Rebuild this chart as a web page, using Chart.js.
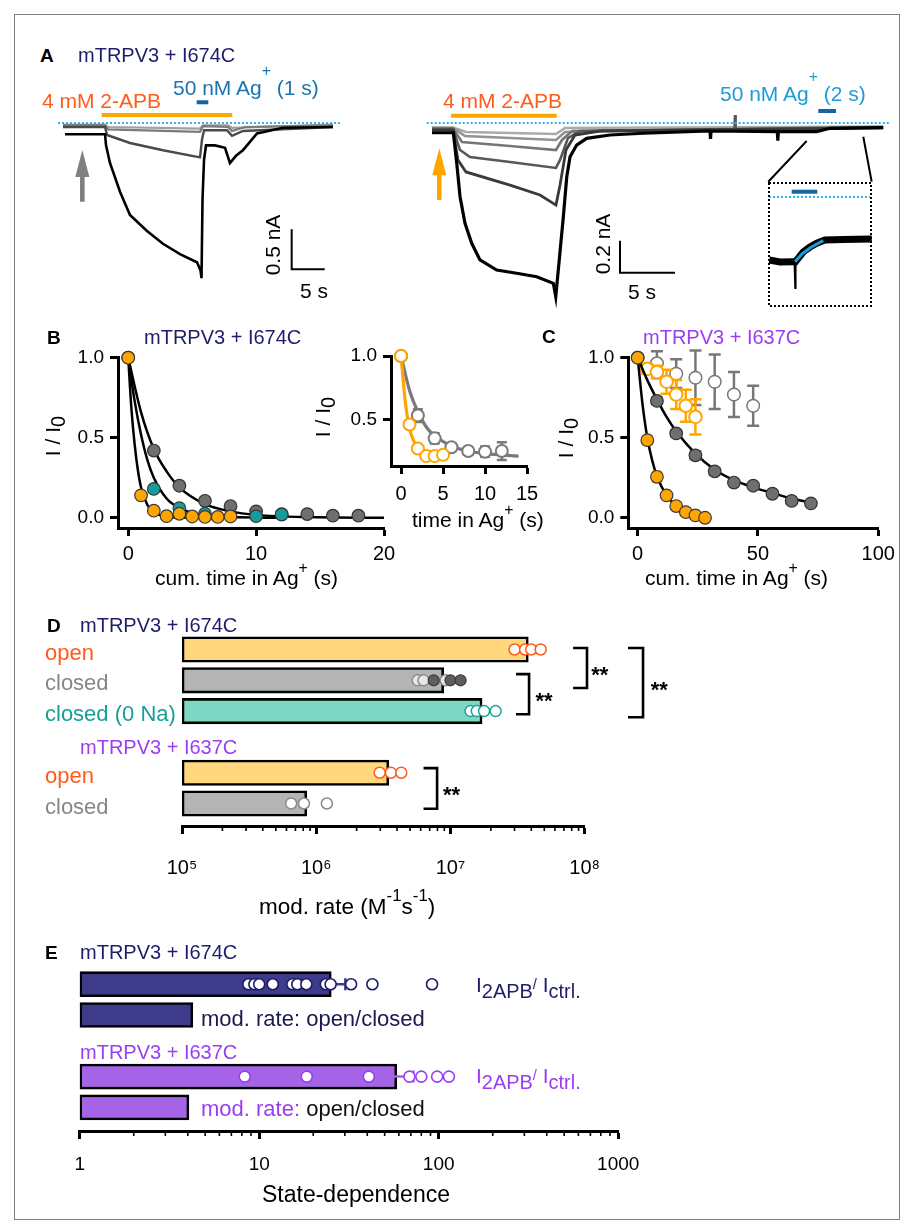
<!DOCTYPE html>
<html>
<head>
<meta charset="utf-8">
<title>mTRPV3 state-dependent modification</title>
<script src="https://cdn.jsdelivr.net/npm/chart.js@4.4.1/dist/chart.umd.min.js"></script>
<style>
  html, body { margin: 0; background: #fff; }
  #page { position: relative; width: 913px; height: 1232px; overflow: hidden; font-family: "Liberation Sans", Arial, sans-serif; }
  #page canvas { position: absolute; }
  .frame { position: absolute; left: 14px; top: 14px; width: 884px; height: 1204px; border: 1px solid #808080; }
  .t { position: absolute; white-space: nowrap; line-height: 1; }
  .sp { position: relative; top: -0.75em; font-size: 0.75em; }
  .sp2 { position: relative; top: -1.2em; font-size: 0.75em; }
  .sb { position: relative; top: 0.27em; font-size: 0.95em; }
  .sl { position: relative; top: -0.2em; font-size: 0.7em; }
</style>
</head>
<body>
<div id="page"><div class="frame"></div></div>
<script>
// ---------- A: whole-cell traces (time in s, current in nA) ----------
const aL_blackT = [0.45, 6.52, 6.67, 7.27, 8.79, 10.3, 12.88, 15.3, 17.88, 20.45, 20.98, 21.14, 21.29, 21.52, 21.82, 23.18, 24.7, 25.45, 26.36, 27.42, 29.55, 33.48, 41.06];
const aL_blackI = [-0.14, -0.14, -0.28, -0.5, -0.86, -1.15, -1.35, -1.51, -1.64, -1.74, -1.84, -1.94, -0.96, -0.46, -0.28, -0.28, -0.31, -0.5, -0.41, -0.34, -0.13, -0.06, -0.05];
const aL_grayT = [0.15, 6.52, 6.82, 10.3, 15.3, 20.91, 21.21, 21.52, 25.0, 25.76, 27.42, 41.06];
const aL_grayI = [-0.05, -0.05, -0.15, -0.25, -0.34, -0.43, -0.21, -0.09, -0.09, -0.16, -0.1, -0.05];
const aL_lightT = [0.15, 6.52, 6.97, 20.91, 21.36, 25.15, 25.76, 27.73, 41.06];
const aL_lightI = [-0.03, -0.03, -0.08, -0.11, -0.04, -0.05, -0.1, -0.05, -0.03];
const aL_faintT = [0.15, 6.52, 6.97, 20.91, 21.36, 25.15, 25.76, 41.06];
const aL_faintI = [-0.02, -0.02, -0.05, -0.07, -0.03, -0.03, -0.06, -0.02];
const aL_apbT = [6.02, 25.8];
const aL_agT = [20.4, 22.17];
const aL_zeroT = [-0.6, 42.1];

const aR_blackT = [0, 1.94, 2.25, 2.55, 3.0, 3.61, 4.36, 5.88, 7.7, 9.52, 11.03, 11.25, 11.48, 11.94, 12.25, 12.55, 13.15, 14.06, 16.18, 19.21, 25.27, 25.32, 25.37, 31.39, 31.44, 31.49, 34.97, 36.18, 41.03];
const aR_blackI = [-0.061, -0.061, -0.252, -0.461, -0.627, -0.752, -0.856, -0.919, -0.939, -0.961, -1.002, -1.086, -0.919, -0.586, -0.336, -0.211, -0.138, -0.096, -0.075, -0.064, -0.05, -0.1, -0.05, -0.054, -0.11, -0.054, -0.054, -0.033, -0.029];
const aR_g1T = [0, 1.91, 2.36, 3.09, 7.09, 9.82, 11.27, 11.64, 12.18, 13.0, 15.27, 41.0];
const aR_g1I = [-0.044, -0.044, -0.231, -0.306, -0.388, -0.45, -0.513, -0.388, -0.169, -0.075, -0.05, -0.031];
const aR_g2T = [0, 1.91, 2.55, 3.45, 7.09, 11.27, 11.64, 12.36, 13.45, 27.5, 27.55, 27.6, 41.0];
const aR_g2I = [-0.038, -0.038, -0.169, -0.213, -0.244, -0.281, -0.231, -0.094, -0.05, -0.04, 0.05, -0.04, -0.028];
const aR_g3T = [0, 1.91, 2.73, 7.09, 11.27, 11.82, 12.73, 41.0];
const aR_g3I = [-0.034, -0.034, -0.119, -0.144, -0.169, -0.106, -0.05, -0.025];
const aR_g4T = [0, 1.91, 3.0, 11.27, 12.09, 41.0];
const aR_g4I = [-0.031, -0.031, -0.081, -0.106, -0.056, -0.025];
const aR_g5T = [0, 1.91, 3.09, 11.27, 12.09, 41.0];
const aR_g5I = [-0.028, -0.028, -0.056, -0.069, -0.031, -0.022];
const aR_apbT = [1.73, 11.34];
const aR_agT = [35.12, 36.73];
const aR_zeroT = [-0.48, 41.6];

// zoomed inset of the 2 s Ag+ pulse (time in s, current in pA)
const aI_traceT = [0.1, 0.92, 1.95, 2.1, 2.72, 3.23, 3.75, 4.38, 5.77, 7.98];
const aI_traceI = [-39.4, -40.6, -40.4, -40.6, -34.2, -31.3, -28.9, -26.9, -26.6, -26.3];
const aI_spikeT = [2.02, 2.08, 2.14];
const aI_spikeI = [-40.5, -57, -40.5];
const aI_fitT = [2.08, 2.62, 3.23, 3.77, 4.25];
const aI_fitI = [-40.4, -35.6, -31.9, -29.4, -27.3];
const aI_agT = [1.82, 3.79];
const aI_zeroT = [0.08, 7.85];

// ---------- B: mTRPV3 + I674C, I/I0 vs cumulative time in Ag+ ----------
const bOpenT = [0, 1, 2, 3, 4, 5, 6, 7, 8];
const bOpenY = [1.0, 0.14, 0.044, 0.01, 0.025, 0.008, 0.005, 0.005, 0.008];
const b0NaT = [2, 4, 6, 10, 12];
const b0NaY = [0.18, 0.06, 0.025, 0.01, 0.02];
const bClosedT = [0, 2, 4, 6, 8, 10, 12, 14, 16, 18];
const bClosedY = [1.0, 0.42, 0.2, 0.106, 0.073, 0.04, 0.023, 0.023, 0.013, 0.013];
const bFitOpenT = [0, 0.25, 0.5, 0.75, 1, 1.5, 2, 3, 4, 8];
const bFitOpenY = [1, 0.68, 0.46, 0.3, 0.19, 0.08, 0.035, 0.008, 0.002, 0];
const bFit0NaT = [0, 0.5, 1, 1.5, 2, 3, 4, 5, 6, 8, 12];
const bFit0NaY = [1, 0.73, 0.52, 0.36, 0.25, 0.12, 0.06, 0.03, 0.015, 0.004, 0];
const bFitClosedT = [0, 1, 2, 3, 4, 6, 8, 10, 14, 20];
const bFitClosedY = [1, 0.66, 0.43, 0.29, 0.19, 0.085, 0.04, 0.018, 0.004, 0];
const bXTicks = [0, 10, 20];
const bYTicks = [0, 0.5, 1];

// inset: control recordings
const bInOpenT = [0, 1, 2, 3, 4, 5];
const bInOpenY = [1.0, 0.46, 0.27, 0.21, 0.21, 0.22];
const bInOpenErr = [0, 0.03, 0.02, 0.02, 0.02, 0.02];
const bInClosedT = [0, 2, 4, 6, 8, 10, 12];
const bInClosedY = [1.0, 0.53, 0.35, 0.28, 0.25, 0.245, 0.25];
const bInClosedErr = [0, 0.05, 0.04, 0.03, 0.03, 0.04, 0.07];
const bInFitOpenT = [0, 0.5, 1, 1.5, 2, 3, 4, 5.5];
const bInFitOpenY = [1, 0.64, 0.43, 0.33, 0.28, 0.25, 0.245, 0.245];
const bInFitClosedT = [0, 1, 2, 3, 4, 6, 8, 10, 14];
const bInFitClosedY = [1, 0.73, 0.56, 0.44, 0.37, 0.29, 0.25, 0.23, 0.21];
const bInXTicks = [0, 5, 10, 15];
const bInYTicks = [0.5, 1];

// ---------- C: mTRPV3 + I637C ----------
const cOpenT = [0, 4, 8, 12, 16, 20, 24, 28];
const cOpenY = [1.0, 0.485, 0.256, 0.14, 0.073, 0.035, 0.015, 0.0];
const cOpenErr = [0, 0.025, 0.03, 0.015, 0.012, 0.01, 0.01, 0.008];
const cClosedT = [0, 8, 16, 24, 32, 40, 48, 56, 64, 72];
const cClosedY = [1.0, 0.73, 0.527, 0.39, 0.29, 0.22, 0.2, 0.15, 0.105, 0.09];
const cClosedErr = [0, 0.02, 0.02, 0.025, 0.02, 0.015, 0.015, 0.01, 0.01, 0.01];
const cOpenCtrlT = [4, 8, 12, 16, 20, 24];
const cOpenCtrlY = [0.93, 0.91, 0.85, 0.77, 0.7, 0.63];
const cOpenCtrlErr = [0.03, 0.04, 0.075, 0.09, 0.1, 0.11];
const cClosedCtrlT = [8, 16, 24, 32, 40, 48];
const cClosedCtrlY = [0.965, 0.9, 0.875, 0.85, 0.77, 0.7];
const cClosedCtrlErr = [0.075, 0.09, 0.17, 0.17, 0.14, 0.125];
const cFitClosedT = [0, 4, 8, 12, 16, 24, 32, 40, 48, 56, 64, 72];
const cFitClosedY = [1, 0.86, 0.74, 0.63, 0.54, 0.4, 0.3, 0.235, 0.19, 0.155, 0.12, 0.095];
const cFitOpenT = [0, 2, 4, 6, 8, 12, 16, 20, 24, 28];
const cFitOpenY = [1, 0.71, 0.5, 0.36, 0.26, 0.14, 0.075, 0.04, 0.018, 0.005];
const cXTicks = [0, 50, 100];
const cYTicks = [0, 0.5, 1];

// ---------- D: modification rates (M-1 s-1) ----------
const dRows = [0, 1, 2, 4, 5];
const dLabels = ['open', 'closed', 'closed (0 Na)', 'open', 'closed'];
const dMeans = [3.8e7, 8.9e6, 1.72e7, 3.47e6, 8.5e5];
const dOpen674 = [3.0e7, 3.6e7, 4.0e7, 4.7e7];
const dClosed674 = [5.7e6, 6.3e6, 9.2e6];
const dClosed674b = [7.5e6, 1.0e7, 1.19e7];
const d0Na674 = [1.41e7, 1.57e7, 1.78e7, 2.17e7];
const dOpen637 = [2.97e6, 3.6e6, 4.3e6];
const dClosed637 = [6.5e5, 8.1e5, 1.2e6];
const dDecades = [1e5, 1e6, 1e7, 1e8];
const dTickLabels = ['10\u2075', '10\u2076', '10\u2077', '10\u2078'];

// ---------- E: state-dependence ----------
const eRows = [0, 1, 3, 4];
const eMeans = [25.2, 4.27, 58.4, 4.06];
const eRatio674 = [8.7, 9.4, 10, 11.9, 15.3, 16.3, 18.3, 23.5, 25, 32.5, 42.7, 91.8];
const eRatio637 = [8.3, 18.4, 40.8, 68.7, 80, 98, 114];
const eErr674 = 5;
const eErr637 = 14;
const eTicks = [1, 10, 100, 1000];

// ---------- helpers ----------
Chart.defaults.font.family = '"Liberation Sans", Arial, sans-serif';
Chart.defaults.color = '#000';
const NAVY = '#1d1d6b', ORANGE = '#ff5b1a', PURPLE = '#9b3df2', TEAL = '#17a097', GREY = '#878787';
const page = document.getElementById('page');

function cv(left, top, w, h) {
  const c = document.createElement('canvas');
  c.width = w; c.height = h;
  c.style.left = left + 'px'; c.style.top = top + 'px';
  c.style.width = w + 'px'; c.style.height = h + 'px';
  page.appendChild(c);
  return c;
}
function txt(html, x, base, size, color, extra) {
  const d = document.createElement('div');
  d.className = 't';
  d.innerHTML = html;
  d.style.cssText = `left:${x}px;top:${base - 0.8465 * size}px;font-size:${size}px;color:${color};` + (extra || '');
  page.appendChild(d);
}
function vtxt(html, cx, cy, size, color) {
  const d = document.createElement('div');
  d.className = 't';
  d.innerHTML = html;
  d.style.cssText = `left:${cx}px;top:${cy}px;font-size:${size}px;color:${color};transform:translate(-50%,-50%) rotate(-90deg);`;
  page.appendChild(d);
}
const pts = (xs, ys) => xs.map((x, i) => ({x, y: ys[i]}));
const rowPts = (vals, row) => vals.map(v => ({x: v, y: row}));
const flat = (ts, level) => ts.map(t => ({x: t, y: level}));

const common = {responsive: false, animation: false, events: []};
const quiet = {legend: {display: false}, tooltip: {enabled: false}};

// error bars drawn just before the dataset that owns them
Chart.register({
  id: 'errorBars',
  beforeDatasetDraw(chart, args) {
    const ds = chart.data.datasets[args.index];
    if (!ds.err) return;
    const horiz = ds.errAxis === 'x';
    const sc = horiz ? chart.scales.x : chart.scales.y;
    const ctx = chart.ctx, cap = ds.errCap || 5;
    ctx.save();
    ctx.strokeStyle = ds.errColor; ctx.lineWidth = 2.5;
    args.meta.data.forEach((el, i) => {
      const e = ds.err[i];
      if (!e) return;
      const v = horiz ? ds.data[i].x : ds.data[i].y;
      const a = sc.getPixelForValue(v - e), b = sc.getPixelForValue(v + e);
      ctx.beginPath();
      if (horiz) {
        ctx.moveTo(a, el.y); ctx.lineTo(b, el.y);
        ctx.moveTo(a, el.y - cap); ctx.lineTo(a, el.y + cap);
        ctx.moveTo(b, el.y - cap); ctx.lineTo(b, el.y + cap);
      } else {
        ctx.moveTo(el.x, a); ctx.lineTo(el.x, b);
        ctx.moveTo(el.x - cap, a); ctx.lineTo(el.x + cap, a);
        ctx.moveTo(el.x - cap, b); ctx.lineTo(el.x + cap, b);
      }
      ctx.stroke();
    });
    ctx.restore();
  }
});

function deco(draw) {
  return {id: 'deco', afterDatasetsDraw(chart) {
    const ctx = chart.ctx;
    ctx.save(); draw(ctx, chart.scales.x, chart.scales.y, chart); ctx.restore();
  }};
}
function arrow(ctx, px, tip, base, color) {
  ctx.fillStyle = color;
  ctx.fillRect(px - 2.3, tip + 24, 4.6, base - tip - 24);
  ctx.beginPath();
  ctx.moveTo(px, tip); ctx.lineTo(px + 7, tip + 27); ctx.lineTo(px - 7, tip + 27);
  ctx.closePath(); ctx.fill();
}
function scaleBar(ctx, x, y, s) {
  ctx.strokeStyle = '#000'; ctx.lineWidth = 2;
  const px = x.getPixelForValue(s.t), py0 = y.getPixelForValue(s.i), py1 = y.getPixelForValue(s.i - s.di);
  ctx.beginPath();
  ctx.moveTo(px, py0); ctx.lineTo(px, py1); ctx.lineTo(x.getPixelForValue(s.t + s.dt), py1);
  ctx.stroke();
}
// short minor ticks of a log axis (decade ticks come from the axis itself)
function minorTicks(ctx, x, decades) {
  ctx.strokeStyle = '#000'; ctx.lineWidth = 1.6;
  const y0 = x.top;
  ctx.beginPath();
  decades.slice(0, -1).forEach(d => {
    for (let m = 2; m <= 9; m++) {
      const px = x.getPixelForValue(d * m);
      ctx.moveTo(px, y0); ctx.lineTo(px, y0 + 5);
    }
  });
  ctx.stroke();
}
function trace(data, color, width, dash) {
  return {data, borderColor: color, borderWidth: width, borderDash: dash || [], pointRadius: 0, fill: false, clip: false, tension: 0};
}
function traceChart(c, xr, yr, datasets, draw) {
  return new Chart(c, {
    type: 'line',
    data: {datasets},
    options: {...common, plugins: quiet, layout: {padding: 0},
      scales: {x: {type: 'linear', display: false, min: xr[0], max: xr[1]},
               y: {type: 'linear', display: false, min: yr[0], max: yr[1]}}},
    plugins: [deco(draw)]
  });
}
function dots(data, fill, stroke, r, bw, extra) {
  return Object.assign({type: 'scatter', data, showLine: false, pointRadius: r, pointBackgroundColor: fill,
    pointBorderColor: stroke, pointBorderWidth: bw, clip: false}, extra || {});
}
function fitLine(data, color, width) {
  return {type: 'scatter', data, showLine: true, pointRadius: 0, borderColor: color, borderWidth: width,
    cubicInterpolationMode: 'monotone', clip: false, fill: false};
}
function axis(o) {
  return {
    type: o.type || 'linear', min: o.min, max: o.max, reverse: !!o.reverse, offset: false,
    afterBuildTicks: s => { s.ticks = o.ticks.map(v => ({value: v})); },
    afterFit: s => { if (o.horizontal) s.height = o.fit; else s.width = o.fit; },
    grid: {display: o.grid !== false, offset: false, drawOnChartArea: false, tickLength: o.tl || 8, tickWidth: o.tw || 3, tickColor: '#000'},
    border: {display: o.border !== false, width: 3, color: '#000'},
    ticks: Object.assign({display: o.labels !== false, font: {size: o.size || 19}, color: '#000', padding: o.pad ?? 6,
      autoSkip: false, maxRotation: 0, callback: o.fmt || (v => String(v))}, o.tickExtra || {})
  };
}
const f1 = v => v.toFixed(1);

// ---------- A ----------
traceChart(cv(40, 80, 305, 220), [-3.333, 42.88], [-2.2125, 0.5375], [
  trace(flat(aL_apbT, 0.1), '#ffa500', 4),
  trace(flat(aL_agT, 0.259), '#1565a0', 4),
  trace(flat(aL_zeroT, 0), '#2cb2ef', 2, [2, 2]),
  trace(pts(aL_blackT, aL_blackI), '#000', 2.6),
  trace(pts(aL_grayT, aL_grayI), '#4a4a4a', 2.4),
  trace(pts(aL_lightT, aL_lightI), '#7a7a7a', 2.2),
  trace(pts(aL_faintT, aL_faintI), '#a0a0a0', 2.2)
], (ctx, x, y) => {
  scaleBar(ctx, x, y, {t: 34.8, i: -1.329, di: 0.5, dt: 5});
  arrow(ctx, x.getPixelForValue(3.08), y.getPixelForValue(-0.3375), y.getPixelForValue(-0.984), '#7f7f7f');
});

traceChart(cv(420, 80, 475, 230), [-1.0909, 42.0909], [-1.16875, 0.26875], [
  trace(flat(aR_apbT, 0.0456), '#ffa500', 4),
  trace(flat(aR_agT, 0.075), '#1565a0', 4),
  trace(flat(aR_zeroT, 0), '#2cb2ef', 2, [2, 2]),
  trace(pts(aR_blackT, aR_blackI), '#000', 3.2),
  trace(pts(aR_g1T, aR_g1I), '#3a3a3a', 2.8),
  trace(pts(aR_g2T, aR_g2I), '#585858', 2.6),
  trace(pts(aR_g3T, aR_g3I), '#767676', 2.6),
  trace(pts(aR_g4T, aR_g4I), '#929292', 2.6),
  trace(pts(aR_g5T, aR_g5I), '#aaaaaa', 2.6)
], (ctx, x, y) => {
  scaleBar(ctx, x, y, {t: 17.09, i: -0.7356, di: 0.2, dt: 5});
  arrow(ctx, x.getPixelForValue(0.66), y.getPixelForValue(-0.158), y.getPixelForValue(-0.481), '#ffa500');
  ctx.strokeStyle = '#000'; ctx.lineWidth = 2;
  ctx.beginPath();
  ctx.moveTo(x.getPixelForValue(34.06), y.getPixelForValue(-0.1125)); ctx.lineTo(x.getPixelForValue(30.57), y.getPixelForValue(-0.367));
  ctx.moveTo(x.getPixelForValue(39.21), y.getPixelForValue(-0.0856)); ctx.lineTo(x.getPixelForValue(39.97), y.getPixelForValue(-0.367));
  ctx.stroke();
});

traceChart(cv(768, 182, 104, 125), [0, 8], [-68.75, 9.375], [
  trace(flat(aI_agT, 3.3), '#1565a0', 4),
  trace(flat(aI_zeroT, 0), '#2cb2ef', 2, [2, 2]),
  trace(pts(aI_fitT, aI_fitI), '#1e9bd7', 3),
  trace(pts(aI_spikeT, aI_spikeI), '#000', 1.5),
  trace(pts(aI_traceT, aI_traceI), '#000', 7)
], (ctx, x, y, chart) => {
  const a = chart.chartArea;
  ctx.strokeStyle = '#000'; ctx.lineWidth = 2; ctx.setLineDash([2, 2]);
  ctx.strokeRect(a.left + 1, a.top + 1, a.right - a.left - 2, a.bottom - a.top - 2);
});

// ---------- B ----------
new Chart(cv(40, 340, 380, 235), {
  type: 'scatter',
  data: {datasets: [
    dots(pts(bOpenT, bOpenY), '#ffa500', '#3a3a3a', 6.3, 1.2),
    dots(pts(b0NaT, b0NaY), '#169c9c', '#3a3a3a', 6.3, 1.2),
    dots(pts(bClosedT, bClosedY), '#6f6f6f', '#333', 6.3, 1.2),
    fitLine(pts(bFitOpenT, bFitOpenY), '#000', 2.5),
    fitLine(pts(bFit0NaT, bFit0NaY), '#000', 2.5),
    fitLine(pts(bFitClosedT, bFitClosedY), '#000', 2.5)
  ]},
  options: {...common, plugins: quiet, layout: {padding: {left: 0, top: 17.7, right: 36, bottom: 0}},
    scales: {
      x: axis({horizontal: true, min: -0.8, max: 20, ticks: bXTicks, size: 20, pad: 6, fit: 47}),
      y: axis({min: -0.064, max: 1, ticks: bYTicks, size: 19, pad: 6, fit: 78, fmt: f1})
    }}
});

new Chart(cv(340, 336, 220, 170), {
  type: 'scatter',
  data: {datasets: [
    dots(pts(bInOpenT, bInOpenY), '#fff', '#ffa500', 6, 2, {err: bInOpenErr, errColor: '#ffa500'}),
    dots(pts(bInClosedT, bInClosedY), '#fff', '#7a7a7a', 6, 2, {err: bInClosedErr, errColor: '#7a7a7a'}),
    fitLine(pts(bInFitOpenT, bInFitOpenY), '#ffa500', 3.2),
    fitLine(pts(bInFitClosedT, bInFitClosedY), '#7a7a7a', 3.2)
  ]},
  options: {...common, plugins: quiet, layout: {padding: {left: 0, top: 20, right: 33, bottom: 0}},
    scales: {
      x: axis({horizontal: true, min: -1.2, max: 15, ticks: bInXTicks, size: 20, pad: 8, fit: 40}),
      y: axis({min: 0.132, max: 1, ticks: bInYTicks, size: 19, pad: 6, fit: 51, fmt: f1})
    }}
});

// ---------- C ----------
new Chart(cv(560, 340, 353, 235), {
  type: 'scatter',
  data: {datasets: [
    dots(pts(cOpenT, cOpenY), '#ffa500', '#3a3a3a', 6.3, 1.2, {err: cOpenErr, errColor: '#ffa500'}),
    dots(pts(cClosedT, cClosedY), '#6f6f6f', '#333', 6.3, 1.2, {err: cClosedErr, errColor: '#8a8a8a', errCap: 6}),
    fitLine(pts(cFitOpenT, cFitOpenY), '#000', 2.5),
    fitLine(pts(cFitClosedT, cFitClosedY), '#000', 2.5),
    dots(pts(cOpenCtrlT, cOpenCtrlY), '#fff', '#ffa500', 6.3, 2, {err: cOpenCtrlErr, errColor: '#ffa500', errCap: 6}),
    dots(pts(cClosedCtrlT, cClosedCtrlY), '#fff', '#777', 6.3, 1.5, {err: cClosedCtrlErr, errColor: '#777', errCap: 6})
  ]},
  options: {...common, plugins: quiet, layout: {padding: {left: 0, top: 17.7, right: 34.7, bottom: 0}},
    scales: {
      x: axis({horizontal: true, min: -3.9, max: 100, ticks: cXTicks, size: 20, pad: 6, fit: 47}),
      y: axis({min: -0.064, max: 1, ticks: cYTicks, size: 19, pad: 6, fit: 68.3, fmt: f1})
    }}
});

// ---------- D ----------
const dLabelColors = [ORANGE, GREY, TEAL, ORANGE, GREY];
const dBrackets = [
  {x0: 8.2e7, x1: 1.04e8, r0: -0.05, r1: 1.25, tx: 1.12e8},
  {x0: 3.08e7, x1: 3.85e7, r0: 0.8, r1: 2.1, tx: 4.3e7},
  {x0: 2.1e8, x1: 2.72e8, r0: -0.05, r1: 2.2, tx: 3.1e8},
  {x0: 6.3e6, x1: 7.95e6, r0: 3.85, r1: 5.17, tx: 8.8e6}
];
new Chart(cv(40, 620, 680, 300), {
  type: 'scatter',
  data: {datasets: [
    dots(rowPts(dOpen674, 0), '#fff', '#ff5b1a', 5.5, 1.5),
    dots(rowPts(dClosed674b, 1), '#5e5e5e', '#3a3a3a', 5.5, 1.2),
    dots(rowPts(dClosed674, 1), '#e8e8e8', '#8a8a8a', 5.5, 1.5),
    dots(rowPts(d0Na674, 2), '#fff', '#17a39b', 5.5, 1.5),
    dots(rowPts(dOpen637, 4), '#fff', '#ff5b1a', 5.5, 1.5),
    dots(rowPts(dClosed637, 5), '#fff', '#8a8a8a', 5.5, 1.5),
    {type: 'bar', indexAxis: 'y', data: dRows.map((r, i) => ({x: dMeans[i], y: r})),
     backgroundColor: ['#ffd77f', '#b4b4b4', '#7dd9c3', '#ffd77f', '#b4b4b4'],
     borderColor: '#000', borderWidth: 2.6, borderSkipped: false, barThickness: 25.5, order: 5}
  ]},
  options: {...common, plugins: quiet, layout: {padding: {left: 5, top: 14.1, right: 135.3, bottom: 0}},
    scales: {
      x: axis({type: 'logarithmic', horizontal: true, min: 1e5, max: 1e8, ticks: dDecades, size: 20, pad: 22, fit: 94, tl: 8,
        fmt: v => dTickLabels[dDecades.indexOf(v)] || ''}),
      y: axis({min: -0.5, max: 5.73, reverse: true, ticks: dRows, size: 22, pad: 0, fit: 137, grid: false, border: false,
        fmt: v => dLabels[dRows.indexOf(v)] || '',
        tickExtra: {crossAlign: 'far', labelOffset: 4, color: c => dLabelColors[dRows.indexOf(c.tick.value)] || '#000'}})
    }},
  plugins: [deco((ctx, x, y) => {
    minorTicks(ctx, x, dDecades);
    ctx.strokeStyle = '#000'; ctx.lineWidth = 2.6; ctx.fillStyle = '#000';
    ctx.font = 'bold 22px "Liberation Sans", Arial, sans-serif';
    ctx.textBaseline = 'alphabetic'; ctx.textAlign = 'left';
    dBrackets.forEach(b => {
      const xa = x.getPixelForValue(b.x0), xb = x.getPixelForValue(b.x1);
      const ya = y.getPixelForValue(b.r0), yb = y.getPixelForValue(b.r1);
      ctx.beginPath();
      ctx.moveTo(xa, ya); ctx.lineTo(xb, ya); ctx.lineTo(xb, yb); ctx.lineTo(xa, yb);
      ctx.stroke();
      ctx.fillText('**', x.getPixelForValue(b.tx), (ya + yb) / 2 + 14);
    });
  })]
});

// ---------- E ----------
new Chart(cv(40, 955, 660, 240), {
  type: 'scatter',
  data: {datasets: [
    dots(rowPts(eRatio674, 0), '#fff', NAVY, 5.5, 1.6),
    dots(rowPts(eRatio637, 3), '#fff', PURPLE, 5.5, 1.6),
    dots([{x: eMeans[0], y: 0}], 'transparent', 'transparent', 0, 0, {err: [eErr674], errAxis: 'x', errColor: '#3e3c8a', errCap: 6, order: 2}),
    dots([{x: eMeans[2], y: 3}], 'transparent', 'transparent', 0, 0, {err: [eErr637], errAxis: 'x', errColor: '#a564e8', errCap: 6, order: 2}),
    {type: 'bar', indexAxis: 'y', data: eRows.map((r, i) => ({x: eMeans[i], y: r})),
     backgroundColor: ['#3e3c8a', '#3e3c8a', '#a564e8', '#a564e8'],
     borderColor: '#000', borderWidth: 2.6, borderSkipped: false, barThickness: 25, order: 5}
  ]},
  options: {...common, plugins: quiet, layout: {padding: {left: 0, top: 13.8, right: 81.8, bottom: 0}},
    scales: {
      x: axis({type: 'logarithmic', horizontal: true, min: 1, max: 1000, ticks: eTicks, size: 19, pad: 14, fit: 64, tl: 8}),
      y: axis({min: -0.5, max: 4.766, reverse: true, ticks: eRows, labels: false, grid: false, border: false, fit: 39.7})
    }},
  plugins: [deco((ctx, x) => minorTicks(ctx, x, eTicks))]
});

// ---------- text ----------
const B = 'font-weight:bold;';
txt('A', 40, 62, 19, '#000', B);
txt('mTRPV3 + I674C', 78, 62, 20, NAVY);
txt('4 mM 2-APB', 42, 108, 21, ORANGE);
txt('50 nM Ag<span class="sp2">+</span> (1 s)', 173, 95, 21, '#1b74ae');
vtxt('0.5 nA', 272, 245, 21, '#000');
txt('5 s', 300, 298, 21, '#000');
txt('4 mM 2-APB', 443, 108, 21, ORANGE);
txt('50 nM Ag<span class="sp2">+</span> (2 s)', 720, 101, 21, '#1e9bd7');
vtxt('0.2 nA', 602, 244, 21, '#000');
txt('5 s', 628, 299, 21, '#000');

txt('B', 47, 344, 19, '#000', B);
txt('mTRPV3 + I674C', 144, 344, 20, NAVY);
vtxt('I / I<span class="sb">0</span>', 53, 436, 21, '#000');
txt('cum. time in Ag<span class="sp">+</span> (s)', 155, 585, 21, '#000');
vtxt('I / I<span class="sb">0</span>', 323, 417, 21, '#000');
txt('time in Ag<span class="sp">+</span> (s)', 412, 527, 21, '#000');

txt('C', 542, 343, 19, '#000', B);
txt('mTRPV3 + I637C', 643, 344, 20, PURPLE);
vtxt('I / I<span class="sb">0</span>', 566, 438, 21, '#000');
txt('cum. time in Ag<span class="sp">+</span> (s)', 645, 585, 21, '#000');

txt('D', 47, 632, 19, '#000', B);
txt('mTRPV3 + I674C', 80, 632, 20, NAVY);
txt('mTRPV3 + I637C', 80, 754, 20, PURPLE);
txt('mod. rate (M<span class="sp">-1</span>s<span class="sp">-1</span>)', 259, 915, 22.5, '#000');

txt('E', 45, 959, 19, '#000', B);
txt('mTRPV3 + I674C', 80, 959, 20, NAVY);
txt('mTRPV3 + I637C', 80, 1059, 20, PURPLE);
txt('I<span class="sb">2APB</span><span class="sl">/</span> I<span class="sb">ctrl.</span>', 476, 992, 21, NAVY);
txt('I<span class="sb">2APB</span><span class="sl">/</span> I<span class="sb">ctrl.</span>', 476, 1083, 21, PURPLE);
txt('mod. rate: open/closed', 201, 1027, 22, '#1a1a50');
txt('<span style="color:' + PURPLE + '">mod. rate:</span> open/closed', 201, 1117, 22, '#111');
txt('State-dependence', 262, 1202, 23, '#000');
</script>
</body>
</html>
